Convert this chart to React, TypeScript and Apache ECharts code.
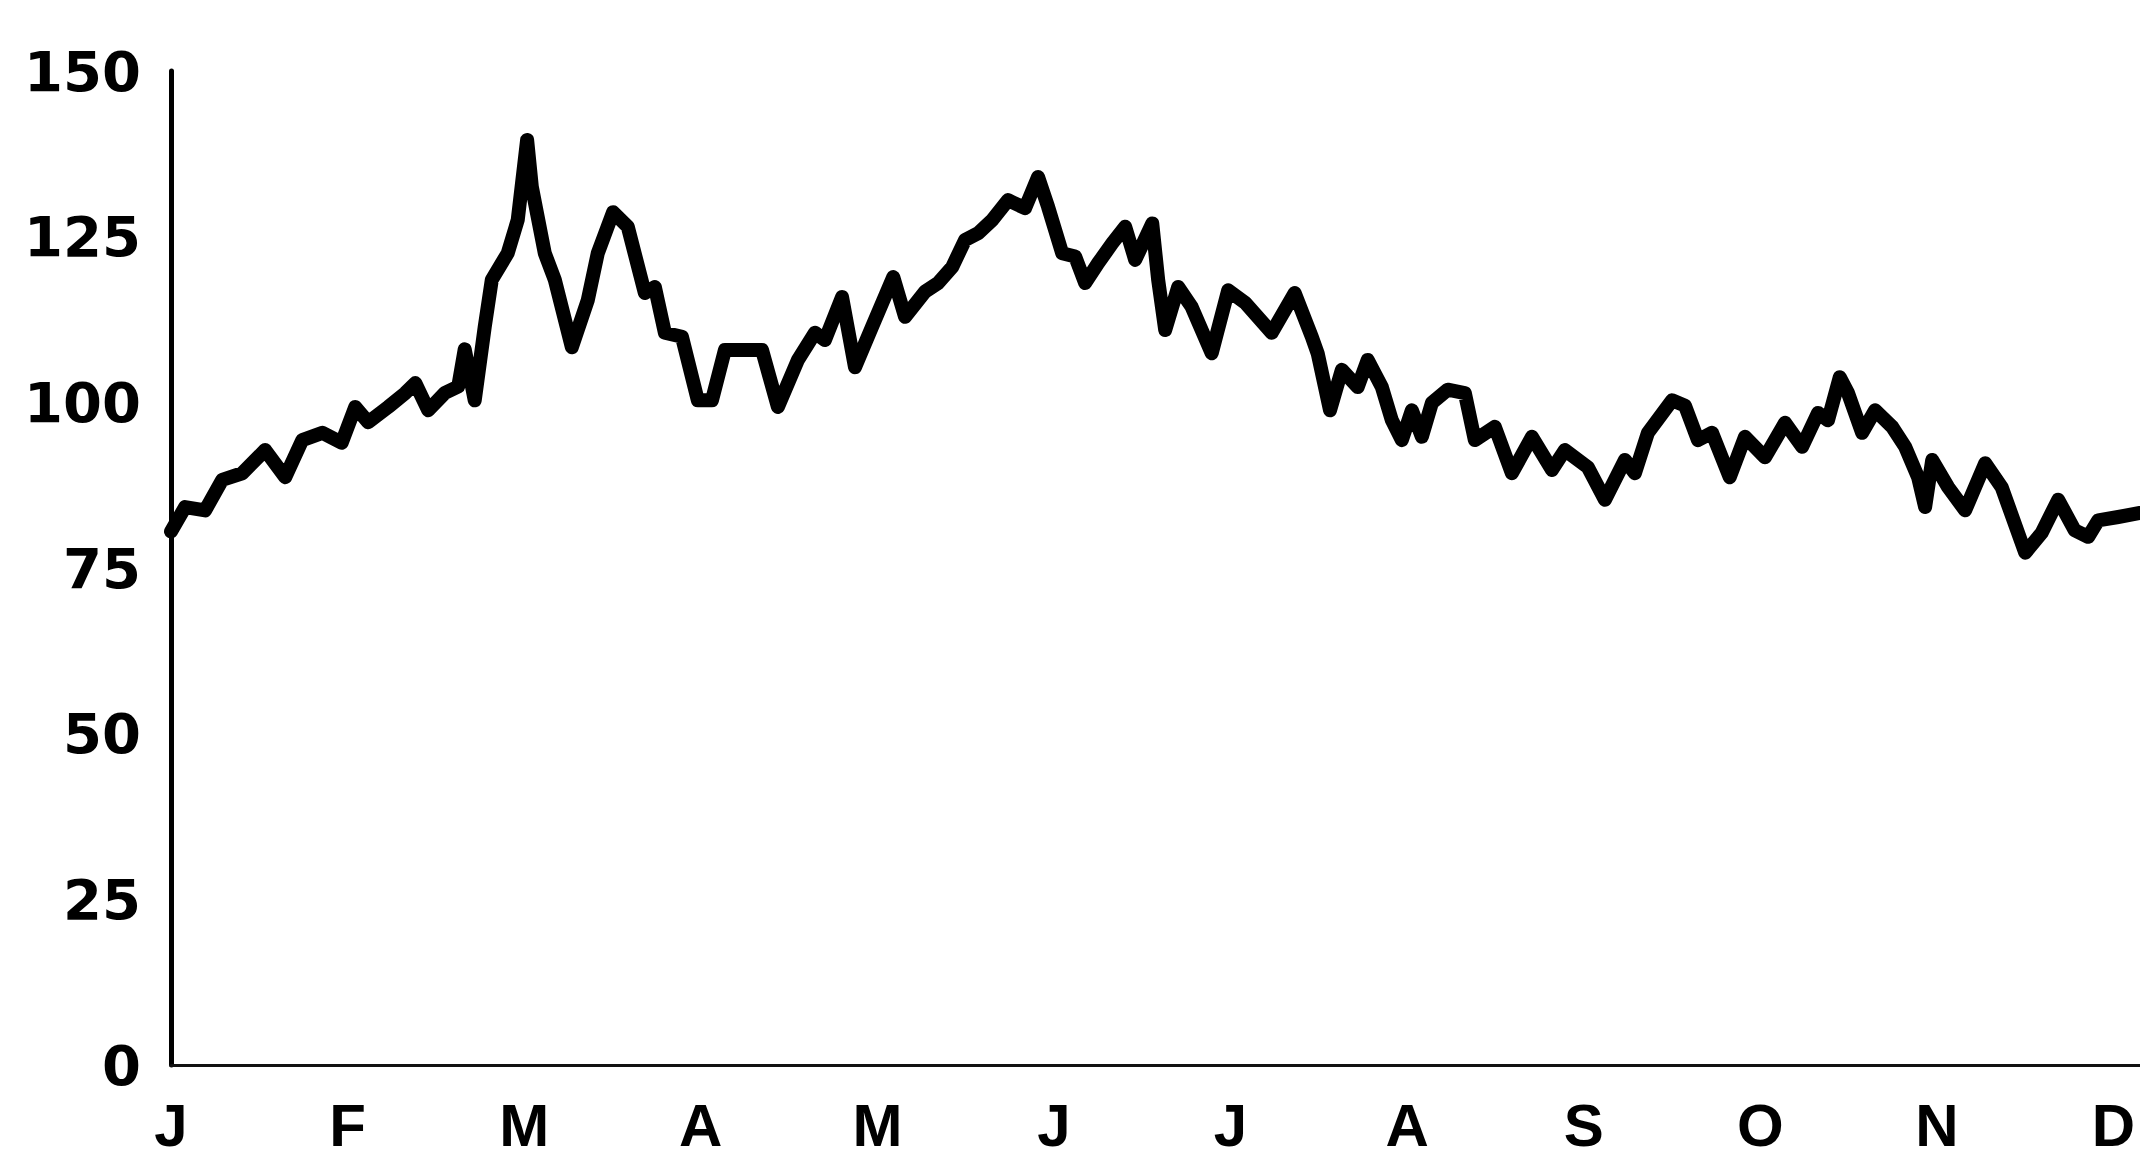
import React, { useEffect, useRef } from "react";
import * as echarts from "echarts";

// Day of period (30 days per month on the axis) and index value
const days = [
  0, 2.4, 5.8, 8.7, 12.1, 16.0, 19.4, 22.3, 25.7, 29.0,
  31.3, 33.5, 36.9, 39.8, 41.5, 43.7, 46.5, 48.8, 49.9, 51.6,
  53.3, 54.5, 57.2, 58.9, 60.5, 61.3, 63.5, 65.2, 68.1, 70.8,
  72.5, 75.1, 77.6, 80.5, 82.2, 83.9, 86.8, 89.5, 91.9, 94.1,
  97.5, 100.4, 103.1, 106.5, 109.4, 111.1, 114.0, 116.2, 119.1, 122.7,
  124.7, 128.1, 130.3, 132.7, 134.9, 137.1, 139.5, 142.2, 145.1, 147.3,
  149.0, 151.4, 153.6, 155.3, 157.5, 159.9, 162.1, 163.8, 166.7, 167.7,
  168.9, 171.1, 173.4, 176.8, 179.6, 182.5, 187.0, 190.9, 193.8, 194.8,
  196.9, 198.9, 201.6, 203.3, 205.7, 207.4, 209.1, 210.8, 212.5, 214.2,
  216.9, 219.8, 221.5, 224.9, 227.8, 231.2, 234.6, 236.8, 240.7, 243.6,
  247.0, 248.7, 250.9, 255.0, 257.2, 259.4, 261.8, 264.8, 267.4, 270.8,
  274.2, 277.1, 279.8, 281.5, 283.5, 284.9, 287.3, 289.5, 292.4, 294.6,
  296.8, 298.0, 299.2, 301.9, 304.8, 308.2, 311.0, 315.0, 317.8, 320.6,
  323.4, 325.7, 327.4, 330.8, 334.5,
];

const values = [
  80.5, 84.2, 83.7, 88.3, 89.3, 92.8, 88.7, 94.3, 95.4, 93.9,
  99.3, 97.0, 99.3, 101.4, 102.9, 98.8, 101.4, 102.4, 108.0, 100.3,
  111.4, 118.5, 122.5, 127.5, 139.6, 132.5, 122.5, 118.5, 108.3, 115.4,
  122.5, 128.7, 126.5, 116.5, 117.4, 110.5, 109.9, 100.3, 100.3, 107.9,
  107.9, 107.9, 99.3, 106.4, 110.5, 109.4, 115.9, 105.3, 111.4, 118.9,
  112.9, 116.7, 118.0, 120.4, 124.5, 125.5, 127.5, 130.5, 129.3, 134.0,
  129.5, 122.5, 122.0, 118.0, 121.0, 124.0, 126.5, 121.5, 127.0, 118.5,
  110.9, 117.4, 114.4, 107.4, 116.9, 115.0, 110.5, 116.5, 109.9, 107.4,
  98.8, 104.9, 102.3, 106.4, 102.3, 97.3, 94.3, 98.8, 94.8, 99.9,
  101.9, 101.4, 94.3, 96.3, 89.3, 94.8, 89.8, 92.8, 90.2, 85.3,
  91.3, 89.3, 95.4, 100.3, 99.5, 94.3, 95.4, 88.7, 94.8, 91.7,
  96.9, 93.3, 98.4, 97.3, 103.8, 101.4, 95.4, 98.8, 96.3, 93.3,
  88.7, 84.2, 91.3, 87.2, 83.7, 90.8, 87.2, 77.3, 80.3, 85.3,
  80.7, 79.7, 82.2, 82.7, 83.3,
];

const monthLabels = ["J", "F", "M", "A", "M", "J", "J", "A", "S", "O", "N", "D"];
const daysPerMonth = 30;
const yMin = 0;
const yMax = 150;
const yStep = 25;
const xMax = 334.5;

export default function App() {
  const ref = useRef<HTMLDivElement>(null);

  useEffect(() => {
    if (!ref.current) return;
    const chart = echarts.init(ref.current, null, { renderer: "svg" });
    const seriesData = days.map((d, i) => [d, values[i]]);
    const numFont = "'DejaVu Sans', 'Liberation Sans', Arial, sans-serif";
    const monthFont = "'Liberation Sans', Arial, Helvetica, sans-serif";
    chart.setOption({
      animation: false,
      backgroundColor: "#ffffff",
      grid: { left: 171, top: 71, right: 0, bottom: 102, containLabel: false },
      xAxis: {
        type: "value",
        min: 0,
        max: xMax,
        interval: daysPerMonth,
        axisLine: { show: true, onZero: false, lineStyle: { color: "#111", width: 3 } },
        axisTick: { show: false },
        splitLine: { show: false },
        axisLabel: {
          show: true,
          margin: 30,
          color: "#000",
          fontFamily: monthFont,
          fontWeight: "bold",
          fontSize: 60,
          lineHeight: 60,
          showMaxLabel: false,
          formatter: (v: number) => {
            const m = Math.round(v / daysPerMonth);
            if (Math.abs(v - m * daysPerMonth) > 0.01) return "";
            return monthLabels[m] ?? "";
          },
        },
      },
      yAxis: {
        type: "value",
        min: yMin,
        max: yMax,
        interval: yStep,
        axisLine: { show: true, lineStyle: { color: "#000", width: 5 } },
        axisTick: { show: false },
        splitLine: { show: false },
        axisLabel: {
          margin: 30,
          color: "#000",
          fontFamily: numFont,
          fontWeight: "bold",
          fontSize: 56,
        },
      },
      series: [
        {
          type: "line",
          data: seriesData,
          showSymbol: false,
          smooth: false,
          lineStyle: { color: "#000", width: 14, join: "round", cap: "round" },
          clip: false,
        },
      ],
    });
    return () => chart.dispose();
  }, []);

  return (
    <div
      ref={ref}
      style={{ position: "fixed", left: 0, top: 0, width: "2140px", height: "1167px", background: "#fff" }}
    />
  );
}
